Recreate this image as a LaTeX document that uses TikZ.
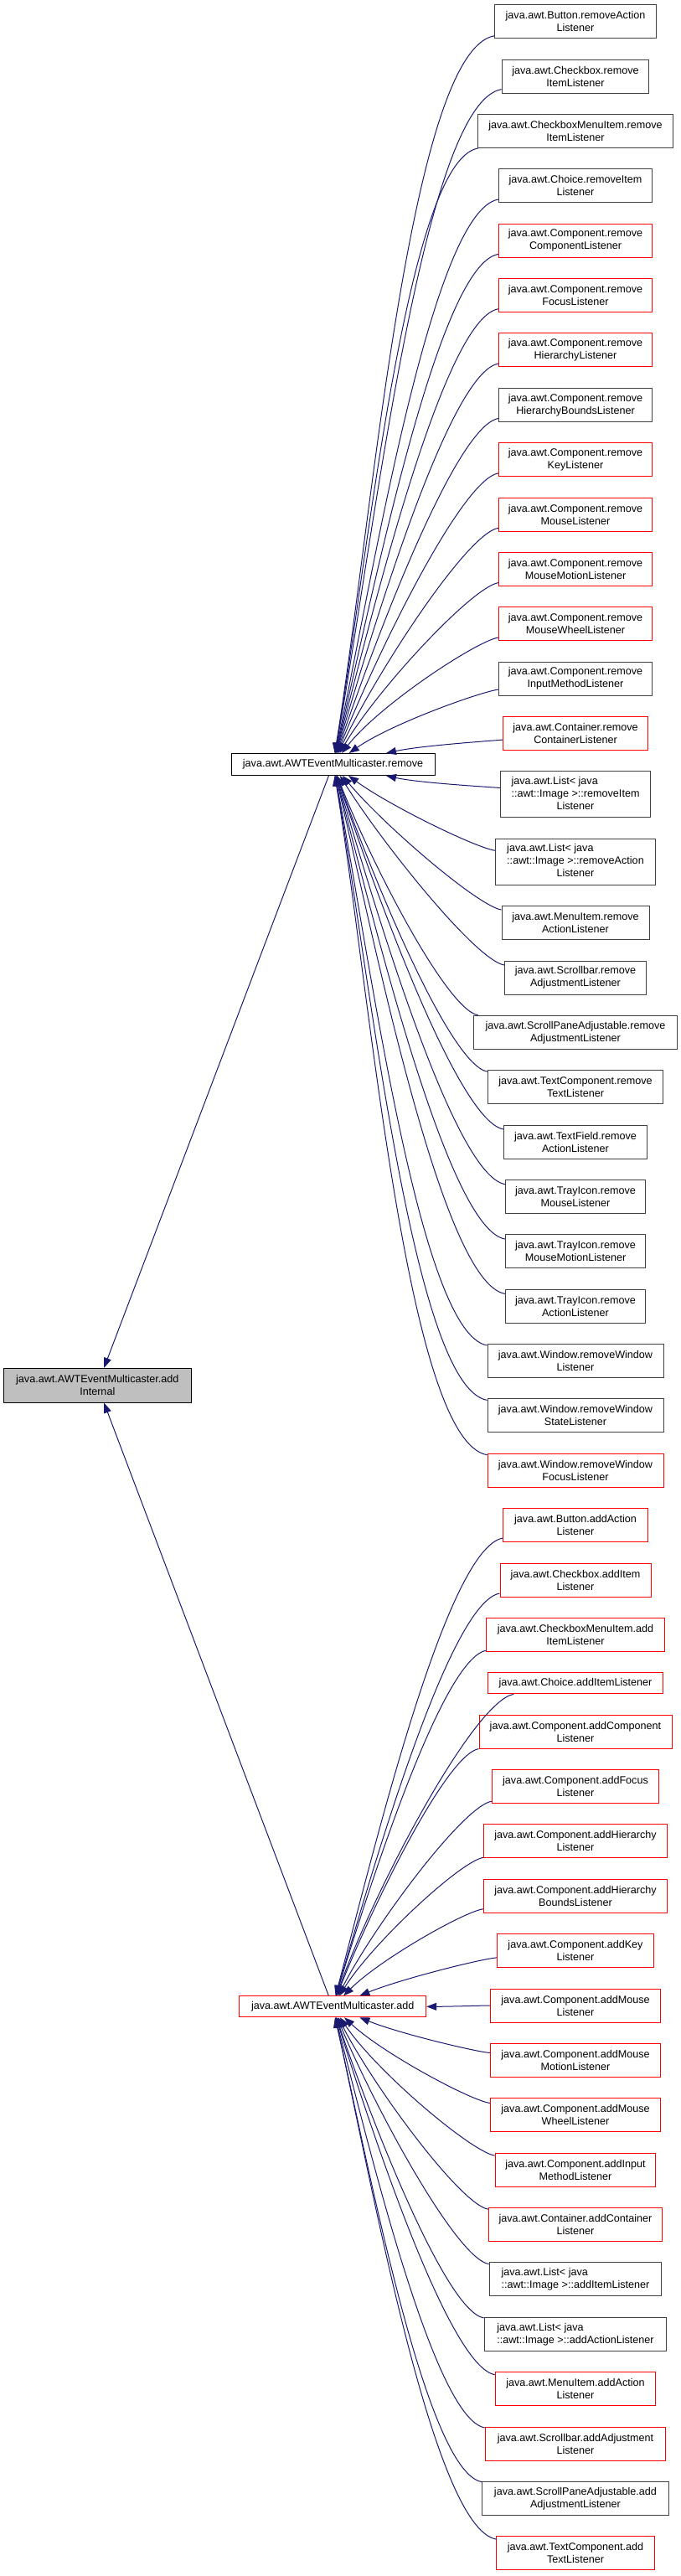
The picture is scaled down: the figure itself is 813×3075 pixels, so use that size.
\documentclass[tikz,border=0pt]{standalone}
\usepackage{fontspec}
\usetikzlibrary{arrows.meta}
\newfontfamily\dgsans{Liberation Sans}
\definecolor{dgEdge}{HTML}{191970}
\definecolor{dgGray}{HTML}{BFBFBF}
\definecolor{dgLine}{HTML}{404040}
\begin{document}
\begin{tikzpicture}[x=1pt, y=-1pt,
  fn/.style={draw=dgLine, line width=1pt, fill=white, inner xsep=2pt, inner ysep=0pt,
    minimum height=40pt, align=center, font=\dgsans\fontsize{12.6}{15}\selectfont},
  fnred/.style={fn, draw=red},
  call/.style={draw=dgEdge, line width=1pt, -{Triangle[length=12pt, width=9pt]},
    out looseness=0.3, in looseness=0.8}]
% Doxygen caller graph, one pixel per point
\providecommand{\dgCol}{687}
\useasboundingbox (0,0) rectangle (813,3075);
% Function of interest
\node[fn, fill=dgGray, draw=black, minimum width=224, minimum height=40.7] (addint) at (116.3,1653.7) {java.awt.AWTEventMulticaster.add\\Internal};
\node[fn, draw=black, minimum width=243, minimum height=26] (rmv) at (397.5,912.5) {java.awt.AWTEventMulticaster.remove};
\node[fnred, minimum width=223, minimum height=25] (addn) at (397.2,2395.3) {java.awt.AWTEventMulticaster.add};
\draw[call] (rmv) -- (addint);
\draw[call] (addn) -- (addint);
% Callers of remove
\node[fn, minimum width=192.6] (rm1) at (\dgCol,25.7) {java.awt.Button.removeAction\\Listener};
\node[fn, minimum width=175.7] (rm2) at (\dgCol,91.07) {java.awt.Checkbox.remove\\ItemListener};
\node[fn, minimum width=232.3] (rm3) at (\dgCol,156.44) {java.awt.CheckboxMenuItem.remove\\ItemListener};
\node[fn, minimum width=183.3] (rm4) at (\dgCol,221.81) {java.awt.Choice.removeItem\\Listener};
\node[fnred, minimum width=183.3] (rm5) at (\dgCol,287.18) {java.awt.Component.remove\\ComponentListener};
\node[fnred, minimum width=183.3] (rm6) at (\dgCol,352.55) {java.awt.Component.remove\\FocusListener};
\node[fnred, minimum width=183.3] (rm7) at (\dgCol,417.92) {java.awt.Component.remove\\HierarchyListener};
\node[fn, minimum width=183.3] (rm8) at (\dgCol,483.29) {java.awt.Component.remove\\HierarchyBoundsListener};
\node[fnred, minimum width=183.3] (rm9) at (\dgCol,548.66) {java.awt.Component.remove\\KeyListener};
\node[fnred, minimum width=183.3] (rm10) at (\dgCol,614.03) {java.awt.Component.remove\\MouseListener};
\node[fnred, minimum width=183.3] (rm11) at (\dgCol,679.40) {java.awt.Component.remove\\MouseMotionListener};
\node[fnred, minimum width=183.3] (rm12) at (\dgCol,744.77) {java.awt.Component.remove\\MouseWheelListener};
\node[fn, minimum width=183.3] (rm13) at (\dgCol,810.14) {java.awt.Component.remove\\InputMethodListener};
\node[fnred, minimum width=172.6] (rm14) at (\dgCol,875.51) {java.awt.Container.remove\\ContainerListener};
\node[fn, minimum width=179.4, minimum height=55] (rm15) at (\dgCol,948.38) {\begin{tabular}{@{}l@{}}java.awt.List< java\\::awt::Image >::removeItem\\\multicolumn{1}{@{}c@{}}{Listener}\end{tabular}};
\node[fn, minimum width=191, minimum height=55] (rm16) at (\dgCol,1028.75) {\begin{tabular}{@{}l@{}}java.awt.List< java\\::awt::Image >::removeAction\\\multicolumn{1}{@{}c@{}}{Listener}\end{tabular}};
\node[fn, minimum width=176] (rm17) at (\dgCol,1101.62) {java.awt.MenuItem.remove\\ActionListener};
\node[fn, minimum width=169] (rm18) at (\dgCol,1166.99) {java.awt.Scrollbar.remove\\AdjustmentListener};
\node[fn, minimum width=242.3] (rm19) at (\dgCol,1232.36) {java.awt.ScrollPaneAdjustable.remove\\AdjustmentListener};
\node[fn, minimum width=209] (rm20) at (\dgCol,1297.73) {java.awt.TextComponent.remove\\TextListener};
\node[fn, minimum width=171] (rm21) at (\dgCol,1363.10) {java.awt.TextField.remove\\ActionListener};
\node[fn, minimum width=167.4] (rm22) at (\dgCol,1428.47) {java.awt.TrayIcon.remove\\MouseListener};
\node[fn, minimum width=167.4] (rm23) at (\dgCol,1493.84) {java.awt.TrayIcon.remove\\MouseMotionListener};
\node[fn, minimum width=167.4] (rm24) at (\dgCol,1559.21) {java.awt.TrayIcon.remove\\ActionListener};
\node[fn, minimum width=210] (rm25) at (\dgCol,1624.58) {java.awt.Window.removeWindow\\Listener};
\node[fn, minimum width=210] (rm26) at (\dgCol,1689.95) {java.awt.Window.removeWindow\\StateListener};
\node[fnred, minimum width=210] (rm27) at (\dgCol,1755.32) {java.awt.Window.removeWindow\\FocusListener};
% Callers of add
\node[fnred, minimum width=172.3] (ad1) at (\dgCol,1820.69) {java.awt.Button.addAction\\Listener};
\node[fnred, minimum width=180] (ad2) at (\dgCol,1886.06) {java.awt.Checkbox.addItem\\Listener};
\node[fnred, minimum width=212.3] (ad3) at (\dgCol,1951.43) {java.awt.CheckboxMenuItem.add\\ItemListener};
\node[fnred, minimum width=209, minimum height=25] (ad4) at (\dgCol,2009.3) {java.awt.Choice.addItemListener};
\node[fnred, minimum width=230] (ad5) at (\dgCol,2067.17) {java.awt.Component.addComponent\\Listener};
\node[fnred, minimum width=199.3] (ad6) at (\dgCol,2132.54) {java.awt.Component.addFocus\\Listener};
\node[fnred, minimum width=219.3] (ad7) at (\dgCol,2197.91) {java.awt.Component.addHierarchy\\Listener};
\node[fnred, minimum width=219.3] (ad8) at (\dgCol,2263.28) {java.awt.Component.addHierarchy\\BoundsListener};
\node[fnred, minimum width=187.4] (ad9) at (\dgCol,2328.65) {java.awt.Component.addKey\\Listener};
\node[fnred, minimum width=203.3] (ad10) at (\dgCol,2394.02) {java.awt.Component.addMouse\\Listener};
\node[fnred, minimum width=203.3] (ad11) at (\dgCol,2459.39) {java.awt.Component.addMouse\\MotionListener};
\node[fnred, minimum width=203.3] (ad12) at (\dgCol,2524.76) {java.awt.Component.addMouse\\WheelListener};
\node[fnred, minimum width=191.7] (ad13) at (\dgCol,2590.13) {java.awt.Component.addInput\\MethodListener};
\node[fnred, minimum width=207.4] (ad14) at (\dgCol,2655.50) {java.awt.Container.addContainer\\Listener};
\node[fn, minimum width=205.7, align=left] (ad15) at (\dgCol,2720.87) {java.awt.List< java\\::awt::Image >::addItemListener};
\node[fn, minimum width=217.7, align=left] (ad16) at (\dgCol,2786.24) {java.awt.List< java\\::awt::Image >::addActionListener};
\node[fnred, minimum width=191.7] (ad17) at (\dgCol,2851.61) {java.awt.MenuItem.addAction\\Listener};
\node[fnred, minimum width=215.7] (ad18) at (\dgCol,2916.98) {java.awt.Scrollbar.addAdjustment\\Listener};
\node[fn, minimum width=222.3] (ad19) at (\dgCol,2982.35) {java.awt.ScrollPaneAdjustable.add\\AdjustmentListener};
\node[fnred, minimum width=188.3] (ad20) at (\dgCol,3047.72) {java.awt.TextComponent.add\\TextListener};
% Edges into remove
\foreach \n/\o/\a in {rm1/190/80.8, rm2/190/79.7, rm3/190/80.3, rm4/190/78, rm5/190/76.8,
  rm6/190/75.4, rm7/190/73.7, rm8/190/71.4, rm9/190/68.6, rm10/190/64.8, rm11/190/59.7,
  rm12/190/52, rm13/188/35, rm14/185/12, rm15/175/-12, rm16/172/-36, rm17/170/-50,
  rm18/170/-58, rm19/170/-69, rm20/170/-70.7, rm21/170/-71.7, rm22/170/-73.7,
  rm23/170/-75.4, rm24/170/-76.8, rm25/170/-79.1, rm26/170/-80, rm27/170/-80.7}
  \draw[call] (\n) to[out=\o, in=\a] (rmv);
% Edges into add
\foreach \n/\o/\a in {ad1/190/75.3, ad2/190/73.9, ad3/190/73.1, ad4/190/70.7, ad5/190/68.9,
  ad6/190/63, ad7/190/58, ad8/188/45, ad9/185/22, ad10/180/0, ad11/175/-22, ad12/172/-43,
  ad13/170/-56, ad14/170/-63, ad15/170/-67.6, ad16/170/-71.3, ad17/170/-72.8,
  ad18/170/-75.5, ad19/170/-77.3, ad20/170/-77.5}
  \draw[call] (\n) to[out=\o, in=\a] (addn);
\end{tikzpicture}
\end{document}
